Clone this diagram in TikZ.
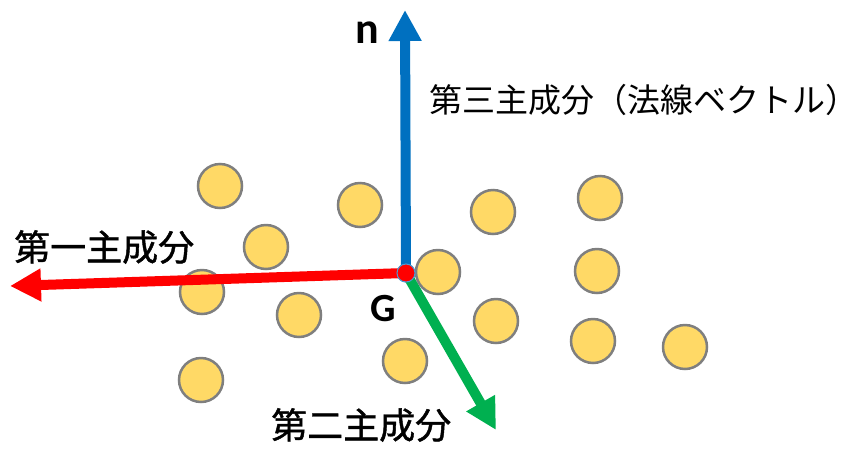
\documentclass[tikz,border=0pt]{standalone}
\usepackage{fontspec}
\newfontfamily\jpfont{Noto Sans CJK JP}
\newfontfamily\jpheavy[FakeBold=1.2]{Noto Sans CJK JP}
\newfontfamily\latfont{Carlito}
\usetikzlibrary{arrows.meta}
\definecolor{pcblue}{HTML}{0070C0}
\definecolor{pcred}{HTML}{FF0000}
\definecolor{pcgreen}{HTML}{00B050}
\definecolor{ptfill}{HTML}{FFD966}
\definecolor{ptedge}{HTML}{7F7F7F}

\begin{document}
\begin{tikzpicture}[x=1pt, y=-1pt,
    point/.style={circle, draw=ptedge, fill=ptfill, line width=2.5pt, minimum size=44pt, inner sep=0pt},
    axis/.style={line width=10pt, -{Triangle[width=31pt, length=31pt]}},
    centroid/.style={circle, fill=pcred, draw=pcblue!70, line width=1pt, minimum size=18pt, inner sep=0pt},
    jplabel/.style={inner sep=0pt, anchor=west, font=\jpheavy\fontsize{#1}{#1}\selectfont}]
    \useasboundingbox (0,0) rectangle (865,448);
    % data points
    \foreach \px/\py [count=\i] in {220/186, 360/205, 266/247, 493/212, 600/198, 438/272,
        597/271, 202/292, 299/315, 496/321, 593/341, 685/347, 405/361, 201/380}
      \node[point] (p\i) at (\px,\py) {};
    % centroid and axis tips
    \coordinate (nTip) at (405,10);
    \coordinate (pcaTip) at (10,286);
    \coordinate (pcbTip) at (496,430);
    \node[centroid] (G) at (406,273) {};
    \draw[axis, pcblue] (G.center) -- (nTip);
    \draw[axis, pcred] (G.center) -- (pcaTip);
    \draw[axis, pcgreen] (G.center) -- (pcbTip);
    \node[centroid] at (G) {};
    % labels
    \node[font=\latfont\bfseries\fontsize{44}{44}\selectfont, inner sep=0pt] (nLabel) at (367,33) {n};
    \node[font=\latfont\bfseries\fontsize{40}{40}\selectfont, inner sep=0pt] (GLabel) at (383,309) {G};
    \node[inner sep=0pt, anchor=west, font=\jpfont\fontsize{33}{33}\selectfont] (pc3Label) at (429,100) {第三主成分（法線ベクトル）};
    \node[jplabel=36] (pc1Label) at (14,247) {第一主成分};
    \node[jplabel=36] (pc2Label) at (271,425) {第二主成分};
\end{tikzpicture}
\end{document}
